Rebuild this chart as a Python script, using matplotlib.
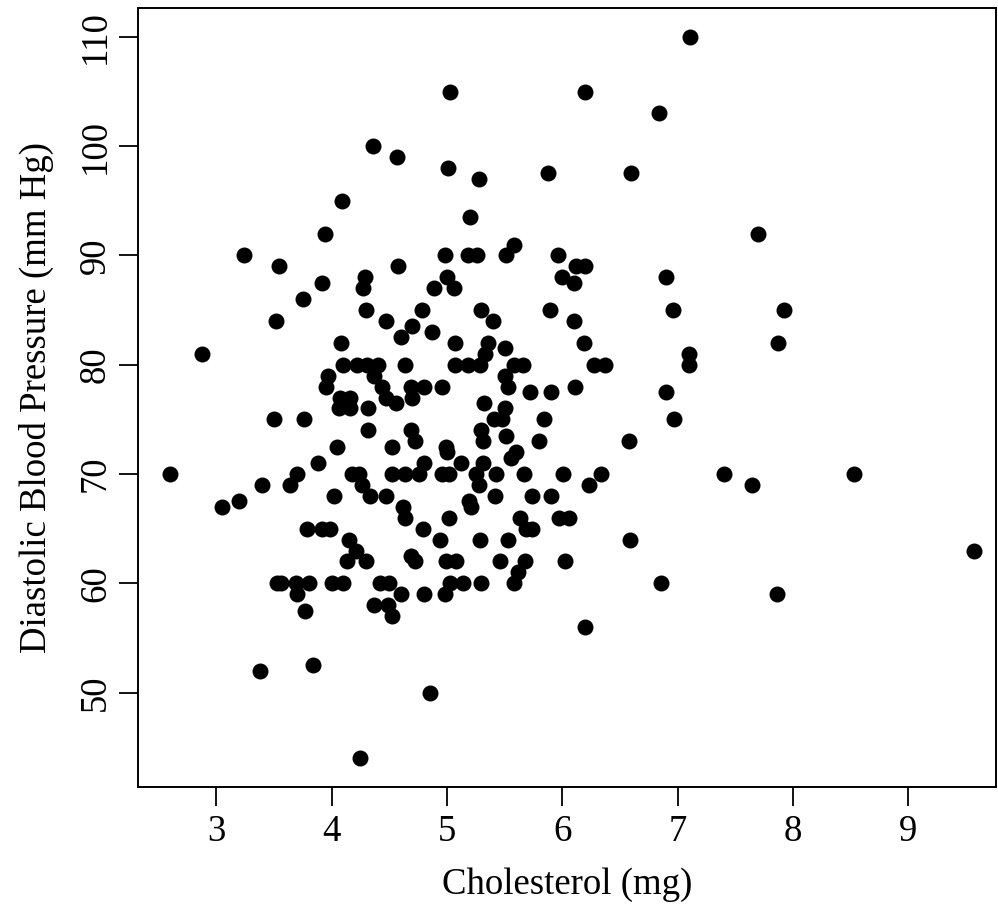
"""
Scatter of diastolic blood pressure against cholesterol, in the style of base R graphics.
"""

import matplotlib
matplotlib.use("Agg")
import matplotlib.pyplot as plt

# cholesterol (mg) and diastolic blood pressure (mm Hg)
cholesterol = [
    7.11, 6.84, 6.60, 7.70, 6.90, 6.96, 7.92, 7.87, 7.10, 7.10,
    6.90, 6.97, 6.58, 7.40, 7.65, 8.53, 9.57, 6.59, 6.86, 7.86,
    5.03, 6.20,
    4.36, 4.09, 3.94, 3.24, 3.54, 3.92, 4.29, 4.27, 3.75, 4.30,
    4.47, 3.52, 4.08, 2.88,
    4.57, 5.01, 5.28, 5.88, 5.20, 4.98, 5.18, 5.26, 5.51, 5.58,
    5.96, 4.58, 5.00, 4.89, 5.06, 6.12, 6.20, 6.00, 6.10, 4.78,
    5.30, 5.89, 5.40, 6.10, 4.70, 4.87, 4.60, 5.07, 5.36, 5.50,
    6.19,
    4.10, 4.22, 4.31, 4.40, 3.97, 3.95, 4.37, 4.44, 4.47, 4.07,
    4.16, 4.06, 4.16, 4.32, 3.50, 3.76, 4.32, 4.05, 3.88, 3.70,
    3.64, 3.40, 3.20, 3.05, 2.60, 4.18, 4.24, 4.26, 4.33, 4.02,
    3.79, 3.92, 3.99, 4.15, 4.21, 4.13, 4.30,
    3.53, 3.56, 3.69, 3.80, 3.70, 3.77, 4.00, 4.10, 4.42, 4.50,
    4.37, 4.49, 4.52, 3.38, 3.84, 4.25,
    4.60, 4.80, 4.98, 5.03, 5.14, 5.30, 5.58, 5.62, 5.68, 6.20,
    4.85,
    5.33, 4.64, 5.07, 5.18, 5.29, 5.58, 5.66, 5.50, 5.53, 6.28,
    6.37, 6.11, 5.72, 5.90, 4.56, 4.69, 4.80, 4.96, 4.70, 5.32,
    5.50, 5.41, 5.48, 5.84, 5.30, 5.31, 5.51, 5.80, 4.69, 4.72,
    4.52, 4.99, 5.00, 5.12, 4.80, 4.76, 4.52, 4.64, 4.96, 5.02,
    5.31, 5.25, 5.43, 5.28, 5.56, 5.60, 5.67, 6.01, 6.34, 6.23,
    4.47, 4.62, 4.64, 4.79, 4.94, 5.02, 5.19, 5.21, 5.42, 5.74,
    5.90, 5.63, 5.69, 5.74, 5.97, 6.06, 5.29, 5.53, 4.69, 4.72,
    4.99, 5.08, 5.46, 6.02,
]

diastolic = [
    110, 103, 97.5, 92, 88, 85, 85, 82, 81, 80,
    77.5, 75, 73, 70, 69, 70, 63, 64, 60, 59,
    105, 105,
    100, 95, 92, 90, 89, 87.5, 88, 87, 86, 85,
    84, 84, 82, 81,
    99, 98, 97, 97.5, 93.5, 90, 90, 90, 90, 91,
    90, 89, 88, 87, 87, 89, 89, 88, 87.5, 85,
    85, 85, 84, 84, 83.5, 83, 82.5, 82, 82, 81.5,
    82,
    80, 80, 80, 80, 79, 78, 79, 78, 77, 77,
    77, 76, 76, 76, 75, 75, 74, 72.5, 71, 70,
    69, 69, 67.5, 67, 70, 70, 70, 69, 68, 68,
    65, 65, 65, 64, 63, 62, 62,
    60, 60, 60, 60, 59, 57.5, 60, 60, 60, 60,
    58, 58, 57, 52, 52.5, 44,
    59, 59, 59, 60, 60, 60, 60, 61, 62, 56,
    50,
    81, 80, 80, 80, 80, 80, 80, 79, 78, 80,
    80, 78, 77.5, 77.5, 76.5, 78, 78, 78, 77, 76.5,
    76, 75, 75, 75, 74, 73, 73.5, 73, 74, 73,
    72.5, 72.5, 72, 71, 71, 70, 70, 70, 70, 70,
    71, 70, 70, 69, 71.5, 72, 70, 70, 70, 69,
    68, 67, 66, 65, 64, 66, 67.5, 67, 68, 68,
    68, 66, 65, 65, 66, 66, 64, 64, 62.5, 62,
    62, 62, 62, 62,
]

x_ticks = [3, 4, 5, 6, 7, 8, 9]
y_ticks = [50, 60, 70, 80, 90, 100, 110]


def r_range(values, frac=0.04):
    # base R pads the data range by 4% on each side
    lo, hi = min(values), max(values)
    pad = (hi - lo) * frac
    return lo - pad, hi + pad


plt.rcParams["font.family"] = ["Liberation Serif", "DejaVu Serif"]

fig = plt.figure(figsize=(9.98, 9.13), dpi=100)
# plot region kept inside the canvas so the right edge of the box shows
ax = fig.add_axes([0.1383, 0.138, 0.8597, 0.8532])

ax.plot(cholesterol, diastolic, linestyle="none", marker="o",
        markersize=11.5, color="black", markeredgewidth=0)

x_lo, x_hi = r_range(cholesterol)
# same scale as the R plot, trimmed on the right where the original is cut
ax.set_xlim(x_lo, x_lo + (x_hi - x_lo) * 0.8597 / 0.8697)
ax.set_ylim(*r_range(diastolic))
ax.set_xticks(x_ticks)
ax.set_yticks(y_ticks)
ax.set_yticklabels([str(v) for v in y_ticks], rotation=90, va="center")

ax.tick_params(axis="both", direction="out", length=14, width=1.3,
               labelsize=26.5, color="black")
ax.tick_params(axis="x", pad=6)
ax.tick_params(axis="y", pad=4)
for spine in ax.spines.values():
    spine.set_linewidth(1.4)

ax.set_xlabel("Cholesterol (mg)", fontsize=26.5, labelpad=13)
ax.set_ylabel("Diastolic Blood Pressure (mm Hg)", fontsize=26.5, labelpad=18)

fig.savefig("out.png", dpi=100)
